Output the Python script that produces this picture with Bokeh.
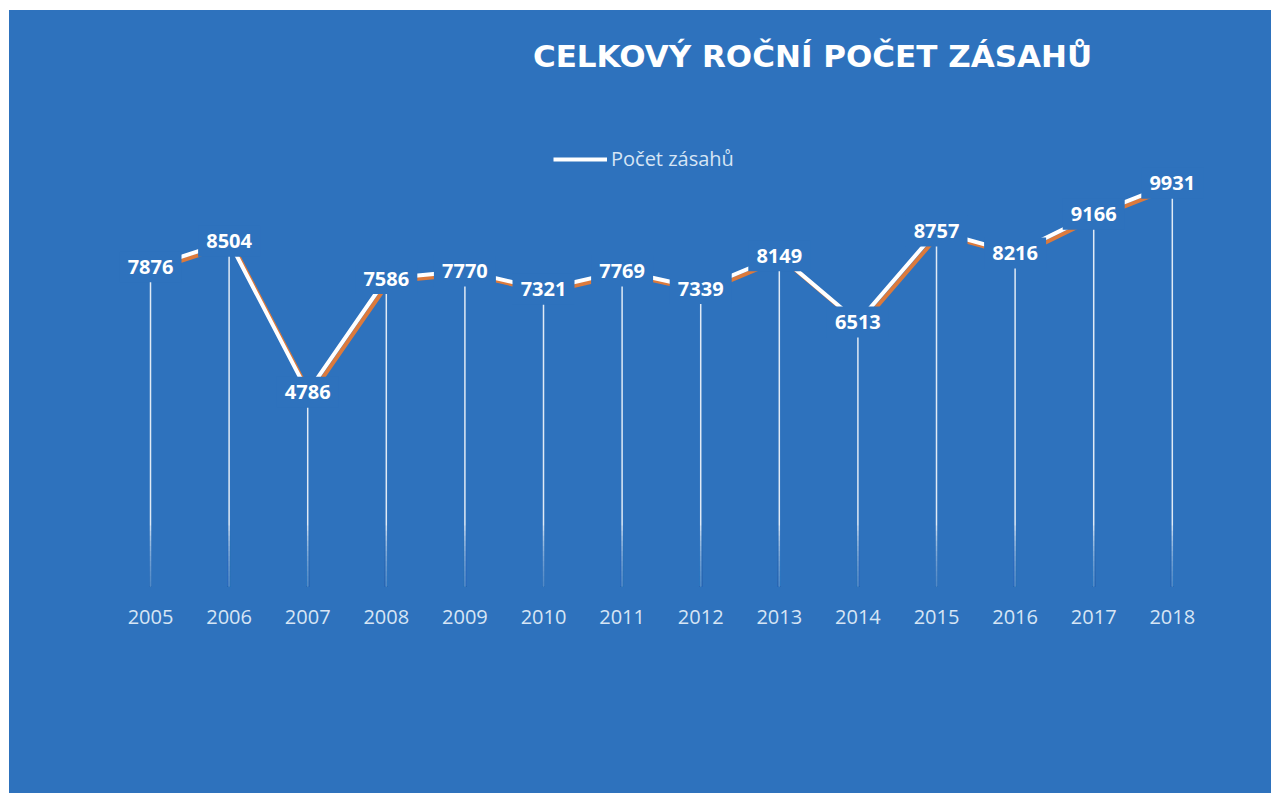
from bokeh.plotting import figure
from bokeh.models import Range1d, FixedTicker, Label, Legend, LegendItem
from bokeh.core.properties import value
from bokeh.embed import file_html
from bokeh.resources import INLINE

# ---- data ----
years = [2005, 2006, 2007, 2008, 2009, 2010, 2011, 2012, 2013, 2014, 2015, 2016, 2017, 2018]
counts = [7876, 8504, 4786, 7586, 7770, 7321, 7769, 7339, 8149, 6513, 8757, 8216, 9166, 9931]
value_labels = [str(c) for c in counts]
title_text = "CELKOVÝ ROČNÍ POČET ZÁSAHŮ"
series_name = "Počet zásahů"

# ---- style ----
BG = "#2E72BD"
ORANGE = "#DC7A3C"
LIGHT = "#D6E5F5"
FONT = "Open Sans"

W, H = 1262, 783
FRAME_H = 576
x_start, x_end = 2003.206, 2019.262
y_start, y_end = 0, 14187
px_x = (x_end - x_start) / W
px_y = (y_end - y_start) / FRAME_H

p = figure(width=W, height=H, output_backend="svg", toolbar_location=None,
           x_range=Range1d(x_start, x_end), y_range=Range1d(y_start, y_end),
           y_axis_location=None,
           min_border_left=0, min_border_right=0, min_border_top=0,
           min_border_bottom=H - FRAME_H,
           background_fill_color=BG, border_fill_color=BG,
           outline_line_color=None, margin=(10, 0, 0, 9),
           styles={"background-color": BG})
p.grid.visible = False

# x axis
ax = p.xaxis[0]
ax.ticker = FixedTicker(ticks=years)
ax.axis_line_color = None
ax.major_tick_line_color = None
ax.minor_tick_line_color = None
ax.major_label_text_color = LIGHT
ax.major_label_text_font = FONT
ax.major_label_text_font_size = "20px"
ax.major_label_standoff = 17

# drop lines with fade at the bottom
p.segment(x0=years, y0=[0] * len(years), x1=years, y1=counts,
          line_color="white", line_width=1.5, line_alpha=0.85)
n_fade = 12
fade_top = 1500
for i in range(n_fade):
    top = fade_top * (1 - i / n_fade)
    p.segment(x0=years, y0=[0] * len(years), x1=years, y1=[top] * len(years),
              line_color=BG, line_width=3, line_alpha=0.12)

# line with orange shadow
p.line([y + 3 * px_x for y in years], [c - 3 * px_y for c in counts],
       line_color=ORANGE, line_width=4)
main_line = p.line(years, counts, line_color="white", line_width=4)

# label boxes hiding the line
p.rect(x=years, y=counts, width=62, height=31, width_units="screen",
       height_units="screen", fill_color=BG, line_color=None)
p.text(x=years, y=counts, text=value_labels, text_font=value(FONT),
       text_font_style="bold", text_font_size="20px", text_color="white",
       text_align="center", text_baseline="middle")

# legend
legend = Legend(items=[LegendItem(label=series_name, renderers=[main_line])],
                location=(544, 414), orientation="horizontal",
                border_line_color=None, background_fill_alpha=0,
                padding=0, margin=0, glyph_width=54, glyph_height=20,
                label_standoff=4, label_height=20,
                label_text_color=LIGHT, label_text_font=FONT,
                label_text_font_size="20px")
p.add_layout(legend)

# title
p.add_layout(Label(x=x_start + (812 - 9) * px_x, y=(586 - 55) * px_y,
                   text=title_text, text_align="center", text_baseline="middle",
                   text_color="white", text_font="DejaVu Sans", text_font_style="bold",
                   text_font_size="31px"))

open("out.html", "w").write(file_html(p, INLINE))
